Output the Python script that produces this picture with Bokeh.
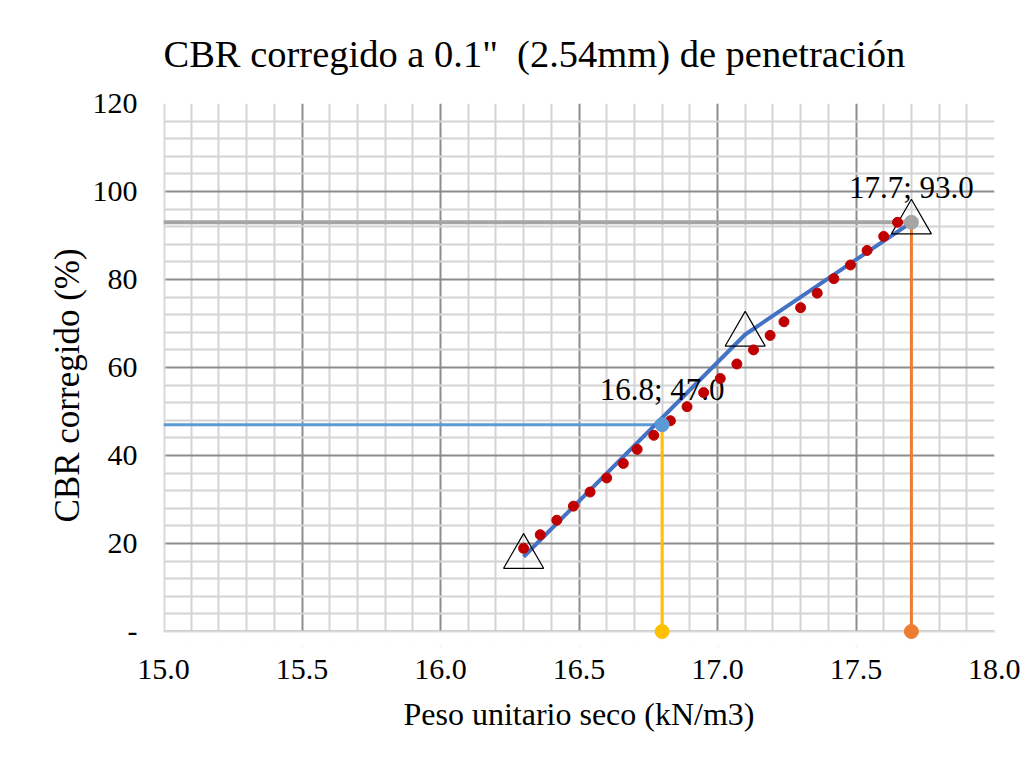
from bokeh.plotting import figure
from bokeh.models import FixedTicker, Range1d, Title
from bokeh.core.properties import value
from bokeh.embed import file_html
from bokeh.resources import INLINE

# ---- data ----
x_ticks = [15.0, 15.5, 16.0, 16.5, 17.0, 17.5, 18.0]
x_minor = [15.1, 15.2, 15.3, 15.4, 15.6, 15.7, 15.8, 15.9,
           16.1, 16.2, 16.3, 16.4, 16.6, 16.7, 16.8, 16.9,
           17.1, 17.2, 17.3, 17.4, 17.6, 17.7, 17.8, 17.9]
y_ticks = [0, 20, 40, 60, 80, 100, 120]
y_minor = [4, 8, 12, 16, 24, 28, 32, 36, 44, 48, 52, 56, 64, 68, 72, 76,
           84, 88, 92, 96, 104, 108, 112, 116]
y_tick_labels = {0: "-", 20: "20", 40: "40", 60: "60", 80: "80", 100: "100", 120: "120"}
x_tick_labels = {15.0: "15.0", 15.5: "15.5", 16.0: "16.0", 16.5: "16.5",
                 17.0: "17.0", 17.5: "17.5", 18.0: "18.0"}

# CBR points (red)
cbr_x = [16.30, 16.36, 16.42, 16.48, 16.54, 16.60, 16.66, 16.71, 16.77, 16.83,
         16.89, 16.95, 17.01, 17.07, 17.13, 17.19, 17.24, 17.30, 17.36, 17.42,
         17.48, 17.54, 17.60, 17.65]
cbr_y = [18.9, 22.0, 25.3, 28.5, 31.7, 34.9, 38.2, 41.4, 44.6, 47.9,
         51.1, 54.3, 57.5, 60.8, 64.0, 67.3, 70.4, 73.6, 76.9, 80.2,
         83.3, 86.6, 89.8, 93.0]

# measured specimens (triangles + blue line)
spec_x = [16.3, 17.1, 17.7]
spec_y = [17.0, 67.5, 93.0]

# readings
read_x = [16.8, 17.7]
read_y = [47.0, 93.0]
read_labels = ["16.8; 47.0", "17.7; 93.0"]

x_min, x_max = 15.0, 18.0
y_min, y_max = 0, 120
y_pad = -3.4   # room below the axis so the end markers are not cut

FONT = "Liberation Serif"
AXIS_GREY = "#d9d9d9"

p = figure(width=1020, height=744, output_backend="svg", toolbar_location=None,
           x_range=Range1d(x_min, x_max), y_range=Range1d(y_pad, y_max),
           min_border_left=163, min_border_right=26, min_border_top=103,
           min_border_bottom=98, background_fill_color="white",
           border_fill_color="white", outline_line_color=None)

p.title.text = 'CBR corregido a 0.1"\u00a0 (2.54mm) de penetración'
p.title.text_font = FONT
p.title.text_font_size = "38.5px"
p.title.text_font_style = "normal"
p.title.text_color = "#000000"
p.title.align = "left"
p.title.standoff = 58

for ax, ticks, minor, labels in ((p.xaxis[0], x_ticks, x_minor, x_tick_labels),
                                 (p.yaxis[0], y_ticks, y_minor, y_tick_labels)):
    ax.ticker = FixedTicker(ticks=ticks, minor_ticks=minor)
    ax.major_label_overrides = labels
    ax.major_tick_line_color = None
    ax.minor_tick_line_color = None
    ax.major_tick_out = 0
    ax.major_tick_in = 0
    ax.axis_line_color = None
    ax.major_label_text_font = FONT
    ax.major_label_text_font_size = "30px"
    ax.major_label_text_color = "#000000"
    ax.axis_label_text_font = FONT
    ax.axis_label_text_font_size = "32px"
    ax.axis_label_text_font_style = "normal"
    ax.axis_label_text_color = "#000000"

p.xaxis.axis_label = "Peso unitario seco (kN/m3)"
p.xaxis.major_label_standoff = 9
p.yaxis.major_label_standoff = 22
p.xaxis.axis_label_standoff = 14

# value-axis title, starting a little above the bottom of the plot as in the picture
p.add_layout(Title(text="CBR corregido (%)", align="left", offset=124,
                   text_font=FONT, text_font_size="35px", text_font_style="normal",
                   text_color="#000000", standoff=6), "left")

for g in p.grid:
    g.grid_line_color = "#8c8c8c"
    g.grid_line_width = 2
    g.minor_grid_line_color = "#d4d4d4"
    g.minor_grid_line_width = 2

# white strip below the value axis, and the light axis lines
p.quad(left=[x_min], right=[x_max], bottom=[y_pad], top=[y_min],
       fill_color="white", line_color=None)
p.line([x_min, x_max], [y_min, y_min], line_color=AXIS_GREY, line_width=2)
p.line([x_min, x_min], [y_min, y_max], line_color=AXIS_GREY, line_width=4)

# reading guide lines
p.line([x_min, read_x[0]], [read_y[0], read_y[0]], line_color="#5B9BD5", line_width=3)
p.line([read_x[0], read_x[0]], [y_min, read_y[0]], line_color="#FFC000", line_width=3)
p.line([x_min, read_x[1]], [read_y[1], read_y[1]], line_color="#A5A5A5", line_width=4)
p.line([read_x[1], read_x[1]], [y_min, read_y[1]], line_color="#ED7D31", line_width=3)

# specimen line + triangles
p.line(spec_x, spec_y, line_color="#4472C4", line_width=4)
p.scatter(spec_x, spec_y, marker="triangle", size=40, fill_color=None,
          line_color="#000000", line_width=1.2)

# data labels
p.text(read_x, read_y, text=read_labels, text_font=value(FONT),
       text_font_size="31px", text_color="#000000", text_align="center",
       text_baseline="alphabetic", y_offset=-35)

# red points
p.scatter(cbr_x, cbr_y, size=10, fill_color="#C00000", line_color="#C00000")

# markers for readings
p.scatter([read_x[0]], [read_y[0]], size=14, fill_color="#5B9BD5", line_color="#5B9BD5")
p.scatter([read_x[1]], [read_y[1]], size=14, fill_color="#A5A5A5", line_color="#A5A5A5")
p.scatter([read_x[0]], [y_min], size=14, fill_color="#FFC000", line_color="#FFC000")
p.scatter([read_x[1]], [y_min], size=14, fill_color="#ED7D31", line_color="#ED7D31")

open("out.html", "w").write(file_html(p, INLINE))
